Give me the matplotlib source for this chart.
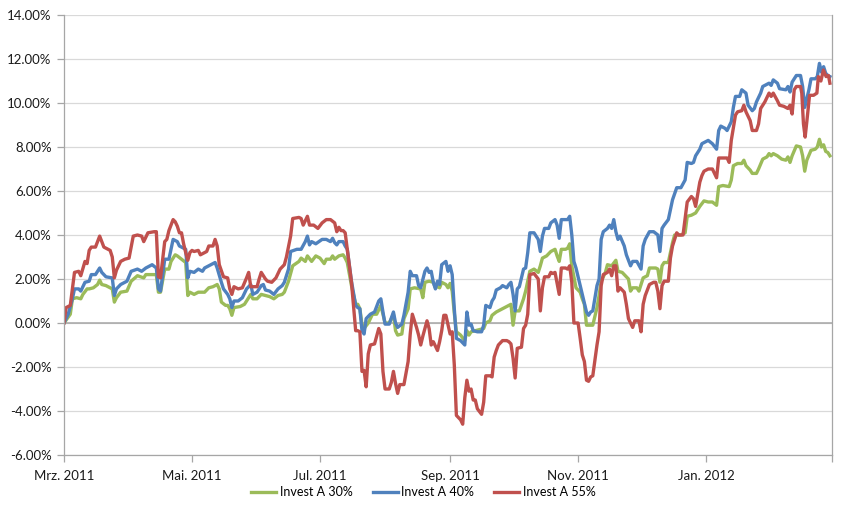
import matplotlib
matplotlib.use("Agg")
import matplotlib.pyplot as plt
import matplotlib.dates as mdates
import pandas as pd

START = "2011-03-01"

# Invest A 30% (green): day offset from 2011-03-01, return in %
days_30 = [0, 3, 4, 6, 8, 9, 11, 12, 14, 16, 17, 18, 20, 23, 24, 25, 27, 30, 32, 35, 38, 39, 44, 45, 46, 48, 50, 51, 53, 54, 56, 58, 59, 60, 62, 64, 67, 69, 71, 73, 74, 75, 77, 78, 79, 80, 81, 84, 86, 89, 90, 92, 94, 96, 98, 100, 102, 104, 105, 107, 109, 112, 113, 115, 116, 118, 120, 122, 124, 125, 127, 128, 129, 131, 133, 134, 135, 137, 139, 140, 141, 142, 143, 145, 147, 149, 151, 152, 153, 155, 157, 158, 159, 161, 162, 164, 165, 167, 170, 171, 172, 174, 176, 177, 178, 179, 180, 182, 183, 184, 185, 186, 187, 189, 191, 192, 193, 194, 196, 198, 200, 201, 203, 204, 206, 208, 210, 212, 213, 214, 215, 217, 219, 220, 222, 224, 226, 227, 228, 230, 232, 234, 235, 236, 237, 239, 240, 241, 242, 244, 246, 247, 248, 249, 251, 252, 254, 255, 256, 258, 259, 261, 263, 264, 266, 267, 269, 270, 271, 273, 274, 276, 278, 279, 282, 283, 284, 285, 286, 288, 290, 291, 294, 296, 297, 299, 301, 303, 305, 307, 309, 311, 312, 314, 317, 318, 319, 321, 323, 324, 325, 327, 328, 330, 331, 333, 335, 336, 337, 338, 340, 342, 344, 345, 346, 347, 349, 351, 352, 353, 354, 356, 358, 359, 360, 361, 362, 363, 364, 365]
vals_30 = [0.0, 0.4, 1.1, 1.15, 1.1, 1.3, 1.55, 1.55, 1.6, 1.75, 1.95, 1.75, 1.7, 1.55, 0.95, 1.15, 1.4, 1.45, 1.9, 2.15, 2.05, 2.2, 2.2, 1.4, 1.4, 2.45, 2.45, 2.8, 3.1, 3.05, 2.9, 2.75, 1.25, 1.4, 1.3, 1.4, 1.4, 1.6, 1.65, 1.75, 1.55, 0.95, 0.8, 0.8, 0.65, 0.35, 0.7, 0.75, 0.85, 1.3, 1.1, 1.1, 1.3, 1.25, 1.2, 1.1, 1.25, 1.3, 1.4, 1.9, 2.6, 2.8, 2.95, 2.8, 3.05, 2.8, 3.05, 2.95, 2.7, 2.9, 2.9, 3.05, 2.9, 3.05, 3.1, 2.95, 2.75, 1.7, 0.85, 0.85, 0.65, -0.05, -0.25, 0.0, 0.4, 0.4, 0.8, 0.4, 0.0, 0.0, 0.4, -0.35, -0.55, -0.5, 0.2, 0.65, 1.55, 1.6, 1.55, 1.15, 1.85, 1.9, 1.85, 1.6, 1.65, 1.6, 1.85, 1.75, 1.6, 1.8, 1.45, 0.45, -0.4, -0.55, -0.8, -0.35, -0.55, -0.4, -0.35, -0.3, -0.25, 0.0, 0.1, 0.35, 0.5, 0.6, 0.7, 0.8, 0.85, -0.1, 0.55, 0.55, 1.1, 1.45, 2.35, 2.45, 2.3, 2.6, 2.95, 3.05, 3.25, 3.35, 3.05, 2.8, 3.35, 3.35, 3.4, 3.6, 2.6, 1.6, 1.4, 1.1, 0.85, -0.1, -0.1, -0.1, 0.7, 1.25, 1.9, 2.3, 2.65, 2.6, 2.85, 2.35, 2.3, 2.2, 2.0, 1.45, 1.6, 1.6, 1.45, 2.05, 2.15, 2.5, 2.5, 2.45, 1.85, 2.6, 2.75, 2.75, 3.65, 4.0, 4.0, 4.1, 4.85, 4.9, 5.0, 5.3, 5.55, 5.5, 5.5, 5.35, 6.2, 6.25, 6.2, 6.5, 7.15, 7.25, 7.25, 7.4, 7.15, 6.95, 6.8, 6.8, 7.0, 7.45, 7.55, 7.7, 7.6, 7.7, 7.6, 7.45, 7.4, 7.55, 7.3, 7.6, 8.05, 8.0, 7.6, 6.9, 7.4, 7.85, 7.9, 8.0, 8.35, 8.0, 8.1, 7.8, 7.75, 7.6]

# Invest A 40% (blue)
days_40 = [0, 2, 4, 5, 7, 8, 10, 12, 13, 15, 16, 17, 18, 20, 23, 24, 25, 27, 30, 32, 35, 37, 39, 42, 44, 45, 46, 48, 50, 51, 52, 54, 55, 57, 58, 59, 60, 62, 64, 66, 67, 70, 72, 73, 75, 76, 78, 79, 80, 81, 83, 85, 87, 89, 90, 92, 94, 95, 96, 98, 100, 102, 104, 105, 107, 108, 111, 113, 115, 116, 117, 118, 120, 123, 125, 127, 128, 129, 130, 131, 133, 134, 135, 137, 139, 140, 141, 142, 143, 144, 146, 148, 150, 151, 152, 153, 155, 157, 158, 159, 161, 162, 164, 165, 166, 168, 169, 170, 172, 173, 174, 175, 176, 177, 178, 179, 180, 182, 183, 184, 185, 186, 187, 189, 191, 192, 193, 194, 195, 197, 199, 200, 201, 203, 204, 205, 206, 208, 209, 211, 212, 213, 214, 215, 216, 217, 219, 220, 221, 222, 224, 226, 227, 228, 229, 231, 232, 234, 235, 236, 237, 239, 240, 241, 242, 243, 244, 246, 247, 249, 250, 251, 252, 254, 255, 256, 257, 259, 260, 261, 262, 263, 264, 265, 267, 268, 270, 271, 273, 275, 276, 277, 279, 281, 283, 284, 285, 286, 288, 290, 292, 294, 296, 297, 299, 300, 301, 303, 304, 305, 307, 309, 311, 312, 313, 315, 316, 318, 319, 320, 322, 323, 325, 326, 328, 329, 330, 332, 333, 334, 336, 337, 338, 340, 341, 344, 345, 346, 347, 349, 351, 352, 353, 355, 356, 358, 359, 360, 361, 362, 363, 364, 365]
vals_40 = [0.0, 0.4, 1.1, 1.55, 1.55, 1.45, 1.85, 1.9, 2.2, 2.2, 2.35, 2.5, 2.3, 2.1, 2.05, 1.25, 1.55, 1.75, 1.9, 2.35, 2.45, 2.35, 2.5, 2.65, 2.5, 1.55, 1.45, 2.9, 2.9, 3.35, 3.8, 3.7, 3.5, 3.4, 3.35, 2.05, 2.35, 2.3, 2.45, 2.35, 2.5, 2.65, 2.75, 2.5, 1.85, 1.55, 1.3, 1.1, 0.7, 1.0, 1.0, 1.15, 1.55, 1.75, 1.3, 1.4, 1.7, 1.75, 1.5, 1.45, 1.3, 1.55, 1.7, 1.85, 2.45, 3.25, 3.35, 3.35, 3.7, 3.95, 3.55, 3.7, 3.6, 3.8, 3.8, 3.7, 3.85, 3.65, 3.55, 3.7, 3.7, 3.5, 3.35, 1.9, 0.8, 0.7, 0.65, -0.35, -0.5, 0.2, 0.4, 0.5, 1.0, 1.1, 0.5, -0.05, -0.05, 0.5, 0.0, -0.2, -0.05, 0.35, 1.4, 2.35, 2.15, 2.15, 1.7, 1.6, 2.35, 2.5, 2.3, 2.35, 1.85, 1.55, 1.9, 1.75, 2.65, 2.8, 2.35, 2.6, 2.2, 0.65, -0.7, -0.8, -1.0, 0.5, -0.1, -0.05, -0.35, -0.4, -0.4, -0.1, 0.8, 0.7, 1.0, 1.15, 1.5, 1.6, 1.7, 1.6, 1.75, 1.85, 1.3, 0.55, 1.55, 1.65, 2.45, 2.5, 3.2, 4.1, 4.1, 3.8, 3.25, 3.95, 4.3, 4.3, 4.55, 4.7, 4.45, 3.85, 4.7, 4.7, 4.7, 4.85, 4.0, 2.8, 2.5, 1.7, 1.3, 0.5, 0.35, 0.5, 0.55, 1.7, 2.0, 3.8, 4.15, 4.3, 4.45, 4.3, 4.7, 4.15, 3.8, 3.95, 3.5, 3.1, 2.6, 2.8, 2.8, 2.45, 3.5, 3.8, 4.15, 4.15, 4.0, 3.25, 4.3, 4.45, 4.7, 5.6, 6.15, 6.15, 6.5, 7.3, 7.25, 7.3, 7.6, 7.9, 8.15, 8.2, 8.3, 8.15, 7.9, 8.75, 8.95, 8.85, 8.75, 9.15, 9.8, 10.3, 10.3, 10.6, 10.45, 9.9, 9.65, 9.75, 10.05, 10.45, 10.75, 10.8, 10.9, 10.8, 11.05, 10.9, 10.65, 10.6, 10.75, 10.5, 10.95, 11.25, 11.25, 10.75, 9.8, 10.6, 11.1, 11.1, 11.2, 11.8, 11.4, 11.65, 11.35, 11.25, 11.2]

# Invest A 55% (red)
days_55 = [0, 1, 3, 5, 7, 8, 10, 11, 12, 13, 15, 16, 17, 18, 19, 22, 23, 24, 25, 27, 29, 31, 33, 35, 37, 38, 40, 43, 44, 45, 46, 48, 49, 50, 52, 53, 54, 55, 56, 57, 58, 59, 60, 61, 62, 64, 65, 68, 69, 71, 72, 73, 74, 76, 78, 79, 80, 81, 83, 85, 87, 88, 89, 92, 93, 94, 96, 97, 99, 101, 103, 105, 106, 108, 109, 112, 113, 114, 116, 117, 119, 121, 123, 125, 127, 129, 130, 131, 132, 133, 134, 135, 137, 139, 140, 141, 142, 143, 144, 145, 146, 148, 150, 151, 152, 153, 155, 156, 157, 158, 159, 160, 162, 164, 165, 166, 168, 169, 170, 171, 173, 174, 175, 176, 178, 179, 180, 181, 182, 184, 185, 186, 187, 189, 190, 191, 192, 193, 194, 195, 196, 197, 199, 200, 201, 203, 204, 205, 206, 207, 209, 211, 212, 213, 214, 215, 216, 218, 219, 220, 221, 222, 224, 226, 227, 228, 229, 231, 232, 233, 234, 236, 237, 239, 240, 241, 242, 243, 245, 246, 247, 248, 249, 250, 251, 252, 254, 255, 256, 257, 259, 260, 261, 262, 263, 264, 265, 267, 268, 269, 271, 272, 274, 275, 276, 277, 279, 281, 282, 283, 284, 285, 286, 288, 289, 290, 292, 293, 295, 296, 297, 299, 300, 301, 303, 304, 305, 307, 309, 311, 312, 314, 316, 317, 318, 320, 321, 323, 324, 325, 327, 328, 330, 331, 332, 334, 336, 337, 338, 340, 341, 343, 345, 346, 347, 348, 349, 351, 351.6, 352.4, 353.2, 354, 355.3, 357.2, 358.8, 359.5, 360.7, 361.9, 363.2, 364.3, 365]
vals_55 = [0.0, 0.7, 0.8, 2.3, 2.35, 2.15, 2.8, 2.7, 3.3, 3.45, 3.45, 3.7, 3.95, 3.7, 3.45, 3.3, 3.0, 2.05, 2.4, 2.8, 2.9, 2.95, 3.95, 4.0, 3.95, 3.7, 4.1, 4.15, 4.15, 2.1, 2.05, 3.7, 3.8, 4.2, 4.7, 4.6, 4.4, 4.1, 4.1, 3.6, 3.2, 2.85, 3.2, 3.3, 3.25, 3.3, 3.1, 3.25, 3.5, 3.5, 3.8, 3.5, 2.65, 2.1, 2.05, 1.55, 1.3, 1.65, 1.55, 1.6, 2.05, 2.3, 1.65, 1.65, 2.0, 2.3, 2.0, 1.9, 1.85, 2.05, 2.45, 2.65, 3.0, 3.95, 4.75, 4.8, 4.75, 4.45, 4.85, 4.45, 4.45, 4.3, 4.55, 4.7, 4.7, 4.55, 4.15, 4.35, 4.2, 4.2, 4.1, 3.35, 1.85, -0.35, -0.35, -0.4, -2.2, -2.15, -2.9, -1.4, -1.0, -0.95, -0.25, -0.5, -2.2, -3.0, -3.0, -2.7, -2.2, -2.75, -3.2, -2.8, -2.8, -1.75, -0.5, 0.4, -0.2, -0.55, -1.0, -0.6, 0.1, -0.25, -1.0, -0.85, -1.25, -0.85, -0.35, 0.35, 0.35, -0.5, -0.4, -1.9, -4.2, -4.4, -4.6, -3.4, -2.6, -3.1, -3.0, -3.5, -3.5, -3.9, -4.15, -3.6, -2.4, -2.4, -2.45, -1.55, -1.25, -1.0, -0.8, -0.8, -0.85, -0.95, -1.6, -2.5, -1.15, -1.1, -0.25, -0.1, 0.4, 2.2, 2.25, 2.0, 0.55, 1.6, 2.1, 2.1, 2.3, 2.25, 2.3, 1.3, 2.5, 2.5, 2.45, 2.6, 1.85, 0.0, 0.0, -0.7, -1.45, -1.75, -2.6, -2.65, -2.45, -2.4, -1.0, -0.4, 1.7, 2.2, 2.3, 2.45, 2.15, 2.6, 2.6, 1.45, 1.6, 1.4, 0.85, 0.2, -0.2, 0.1, 0.1, -0.4, 0.85, 1.25, 1.75, 1.85, 1.85, 1.45, 0.65, 1.7, 1.9, 1.9, 2.95, 3.5, 4.1, 4.0, 4.0, 4.75, 5.5, 5.75, 5.65, 5.3, 6.4, 6.7, 6.9, 7.0, 7.0, 6.6, 7.5, 7.5, 7.5, 7.3, 8.3, 9.45, 9.6, 9.65, 9.9, 9.6, 9.2, 8.75, 8.75, 9.05, 9.75, 10.05, 10.45, 10.3, 10.45, 10.1, 9.9, 9.85, 9.75, 9.9, 9.5, 10.6, 10.75, 10.75, 10.45, 9.05, 8.45, 9.15, 10.35, 10.35, 10.45, 11.2, 11.0, 11.5, 11.2, 11.25, 10.9]

series_names = ["Invest A 30%", "Invest A 40%", "Invest A 55%"]
series_colors = ["#9BBB59", "#4F81BD", "#C0504D"]

tick_dates = ["2011-03-01", "2011-05-01", "2011-07-01", "2011-09-01", "2011-11-01", "2012-01-01", "2012-03-01"]
tick_labels = ["Mrz. 2011", "Mai. 2011", "Jul. 2011", "Sep. 2011", "Nov. 2011", "Jan. 2012", ""]
y_ticks = [-6, -4, -2, 0, 2, 4, 6, 8, 10, 12, 14]

plt.rcParams["font.family"] = ["Lato", "DejaVu Sans"]

fig = plt.figure(figsize=(8.47, 5.23), dpi=100)
ax = fig.add_axes([64 / 847, 1 - 455 / 523, (832 - 64) / 847, (455 - 15) / 523])

start = pd.Timestamp(START)
for d, v, name, col in zip([days_30, days_40, days_55], [vals_30, vals_40, vals_55],
                           series_names, series_colors):
    dates = start + pd.to_timedelta(d, unit="D")
    ax.plot(dates, v, color=col, lw=2.4, label=name, solid_joinstyle="round")

ax.set_xlim(pd.Timestamp(tick_dates[0]), pd.Timestamp(tick_dates[-1]))
ax.set_ylim(-6, 14)
ax.set_yticks(y_ticks)
ax.set_yticklabels([f"{t:.2f}%" for t in y_ticks])
ax.set_xticks([pd.Timestamp(t) for t in tick_dates])
ax.set_xticklabels(tick_labels)

ax.grid(axis="y", color="#D9D9D9", lw=0.9)
ax.set_axisbelow(True)
ax.axhline(0, color="#A6A6A6", lw=1.1, zorder=1.5)

ax.spines["top"].set_visible(False)
for s in ["left", "bottom", "right"]:
    ax.spines[s].set_color("#A6A6A6")
    ax.spines[s].set_linewidth(0.9)

ax.tick_params(axis="both", colors="#A6A6A6", length=5, width=0.9, labelcolor="#1a1a1a",
               labelsize=9.5)
ax.tick_params(axis="x", pad=6)
ax.tick_params(axis="y", pad=4)

fig.legend(loc="center", bbox_to_anchor=(0.5, 1 - 492 / 523), ncol=3, frameon=False,
           fontsize=9, handlelength=2.0, handletextpad=0.3, columnspacing=1.6)

fig.savefig("out.png", dpi=100)
